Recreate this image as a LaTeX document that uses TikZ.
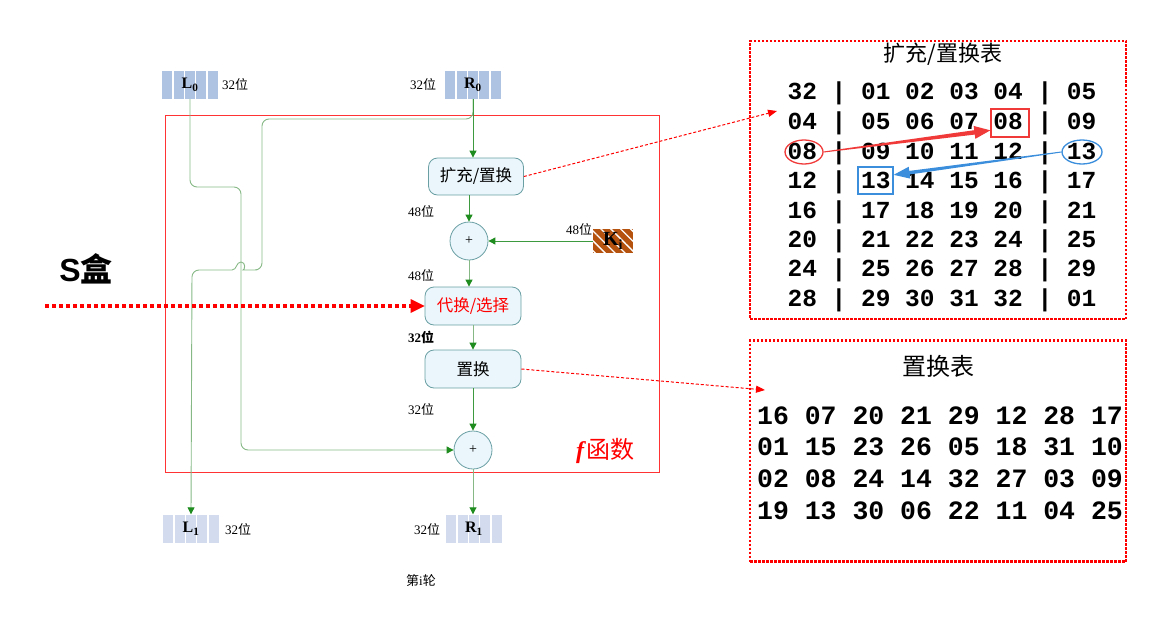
\documentclass[tikz,border=0pt]{standalone}
\usepackage{fontspec}
\setmainfont{Liberation Serif}
\newfontfamily\cjk{Noto Sans CJK SC}
\newfontfamily\tmono{Liberation Mono}
\newfontfamily\ssans{Liberation Sans}
\usetikzlibrary{arrows.meta,patterns.meta,calc,shapes.geometric}
\definecolor{stripeA}{HTML}{AEC2E2}
\definecolor{stripeB}{HTML}{D2DCEE}
\definecolor{boxfill}{HTML}{EAF6FC}
\definecolor{boxedge}{HTML}{6A9FA3}
\definecolor{wire}{HTML}{86B886}
\definecolor{wiredark}{HTML}{3E9A3E}
\definecolor{tipgreen}{HTML}{1E8C1E}
\definecolor{kbrown}{HTML}{B4520E}
\definecolor{fred}{HTML}{FF3333}
\definecolor{hlblue}{HTML}{3A8EDC}
\definecolor{hlred}{HTML}{F03A3A}
\newcommand\wei{{\cjk 位}}
\newcommand\taparrow[5]{% color, start, end, shaft width, head half width
  \path (#2) coordinate (ta) (#3) coordinate (tb);
  \path ($(tb)!16pt!(ta)$) coordinate (th);
  \fill[#1] ($(ta)!0.5pt!90:(tb)$) -- ($(th)!#4!90:(tb)$) -- ($(th)!#5!90:(tb)$) -- (tb)
    -- ($(th)!#5!-90:(tb)$) -- ($(th)!#4!-90:(tb)$) -- ($(ta)!0.5pt!-90:(tb)$) -- cycle;}
\tikzset{
  regbox/.style={minimum width=56pt, minimum height=28pt, inner sep=0, fill=#1,
    path picture={\foreach \i in {1,...,4}{\fill[white] ($(path picture bounding box.north west)!\i/5!(path picture bounding box.north east)$) ++(-0.8,-2) rectangle ++(1.6,34);}}},
  regtxt/.style={font=\fontsize{16}{18}\selectfont\bfseries},
  flowbox/.style={draw=boxedge, fill=boxfill, rounded corners=9pt, minimum width=96pt, minimum height=38pt, inner sep=0, line width=0.8pt, font=\cjk\fontsize{16.5}{18}\selectfont},
  xorc/.style={circle, draw=boxedge, fill=boxfill, minimum size=38pt, inner sep=0, line width=0.8pt, font=\fontsize{14}{16}\selectfont},
  wireline/.style={draw=wire, line width=0.9pt, -{Triangle[length=7pt,width=7pt,color=tipgreen]}},
  conn/.style={draw=wiredark, line width=0.9pt, -{Triangle[length=7pt,width=7pt,color=tipgreen]}},
  lbl/.style={font=\fontsize{13}{15}\selectfont, inner sep=0},
  tblbox/.style={draw=red, line width=2.5pt, dash pattern=on 2.5pt off 1.5pt},
  monoA/.style={font=\tmono\bfseries\fontsize{24.5}{26}\selectfont, inner sep=0, text height=15pt, text depth=0pt},
  monoB/.style={font=\tmono\bfseries\fontsize{26.5}{28}\selectfont, inner sep=0, text height=16pt, text depth=0pt},
  reddash/.style={draw=red, line width=1pt, dash pattern=on 3pt off 2pt, -{Triangle[length=9pt,width=7pt]}},
  hl/.style={draw=#1, line width=1.3pt, inner sep=0}
}
\begin{document}
\begin{tikzpicture}[x=1pt,y=-1pt]
\useasboundingbox (0,0) rectangle (1166,618);
% f-function frame
\node[draw=fred, line width=0.8pt, minimum width=494pt, minimum height=357pt, inner sep=0] (F) at (412,293.5) {};
% registers
\node[regbox=stripeA, regtxt] (L0) at (190,85) {L\textsubscript{0}};
\node[regbox=stripeA, regtxt] (R0) at (473,85) {R\textsubscript{0}};
\node[regbox=stripeB, regtxt] (L1) at (191,528.5) {L\textsubscript{1}};
\node[regbox=stripeB, regtxt] (R1) at (474,528.5) {R\textsubscript{1}};
% flow nodes
\node[flowbox, minimum width=95pt, minimum height=37pt] (X1) at (476,176.5) {扩充/置换};
\node[xorc] (c1) at (469,241) {+};
\node[flowbox, text=red] (SUB) at (473,306) {代换/选择};
\node[flowbox] (P) at (473,369) {置换};
\node[xorc] (c2) at (473,450) {+};
\node[minimum width=40pt, minimum height=24pt, inner sep=0, fill=kbrown,
  postaction={pattern={Lines[angle=-45,distance=7pt,line width=1.3pt]}, pattern color=white},
  font=\fontsize{20}{22}\selectfont\bfseries] (Ki) at (613,241) {K\textsubscript{i}};
% wires
\draw[wireline, rounded corners=7pt] (L0.south) -- (190,187) -- (241,187) -- (241,450) -- (c2.west);
\draw[wireline] (R0.south) [rounded corners=7pt] -- (473,119) -- (262,119) -- (262,270) -- (250,270)
  [sharp corners] .. controls (245,270) and (246,262) .. (241,262) .. controls (236,262) and (237,270) .. (232,270)
  [rounded corners=7pt] -- (192,270) -- (L1.north);
\draw[conn] (R0.south) -- (R0.south |- X1.north);
\draw[conn] (c1.north |- X1.south) -- (c1.north);
\draw[wireline] (c1.south) -- (c1.south |- SUB.north);
\draw[wireline] (P.north |- SUB.south) -- (P.north);
\draw[conn] (c2.north |- P.south) -- (c2.north);
\draw[wireline] (c2.south) -- (c2.south |- R1.north);
\draw[conn] (Ki.west) -- (c1.east);
% labels
\node[lbl] (lL0) at (235,85) {32\wei};
\node[lbl] (lR0) at (423,85) {32\wei};
\node[lbl] (l48a) at (421,211) {48\wei};
\node[lbl] (l48b) at (421,275) {48\wei};
\node[lbl] (l48k) at (579,229) {48\wei};
\node[lbl] (l32a) at (421,337) {\textbf{32}{\cjk\bfseries 位}};
\node[lbl] (l32b) at (421,409) {32\wei};
\node[lbl] (lL1) at (238,529) {32\wei};
\node[lbl] (lR1) at (427,529) {32\wei};
\node[lbl] (round) at (421,581) {{\cjk 第}i{\cjk 轮}};
\node[inner sep=0, text=red, font=\fontsize{24}{26}\selectfont] (fname) at (605,451) {\textbf{\textit{f}}{\cjk 函数}};
\node[inner sep=0, font=\fontsize{32}{34}\selectfont\bfseries] (sbox) at (86,269) {{\ssans S}{\cjk 盒}};
% S-box pointer
\coordinate (sstart) at (45,306);
\draw[red, line width=3.5pt, dash pattern=on 4pt off 3pt, -{Triangle[length=14pt,width=14pt,line width=0pt]}] (sstart) -- (SUB.west);
% table 1
\node[tblbox, minimum width=376pt, minimum height=278pt, inner sep=0] (T1) at (938,180) {};
\node[inner sep=0, font=\cjk\fontsize{22}{24}\selectfont] (T1t) at (943,54) {扩充/置换表};
\foreach \y/\txt [count=\r] in {92/{32 | 01 02 03 04 | 05}, 122/{04 | 05 06 07 08 | 09},
  152/{08 | 09 10 11 12 | 13}, 181/{12 | 13 14 15 16 | 17}, 211/{16 | 17 18 19 20 | 21},
  240/{20 | 21 22 23 24 | 25}, 269/{24 | 25 26 27 28 | 29}, 299/{28 | 29 30 31 32 | 01}}
  \node[monoA] (T1r\r) at (942,\y) {\txt};
\node[hl=hlred, ellipse, minimum width=38pt, minimum height=24pt] (e08) at (804,152) {};
\node[hl=hlred, minimum width=38pt, minimum height=28pt] (r08) at (1010,123) {};
\node[hl=hlblue, ellipse, minimum width=40pt, minimum height=24pt] (e13) at (1082,152) {};
\node[hl=hlblue, minimum width=35pt, minimum height=27pt] (r13) at (875.5,180.5) {};
\taparrow{hlred}{e08.east}{$(r08.south west)!0.25!(r08.north west)$}{2.2pt}{6.5pt}
\taparrow{hlblue}{e13.west}{$(r13.south east)!0.7!(r13.north east)$}{1.8pt}{6pt}
% table 2
\node[tblbox, minimum width=376pt, minimum height=221pt, inner sep=0] (T2) at (938,451) {};
\node[inner sep=0, font=\cjk\fontsize{24}{26}\selectfont] (T2t) at (938,366) {置换表};
\foreach \y/\txt [count=\r] in {416/{16 07 20 21 29 12 28 17}, 447/{01 15 23 26 05 18 31 10},
  479/{02 08 24 14 32 27 03 09}, 511/{19 13 30 06 22 11 04 25}}
  \node[monoB] (T2r\r) at (940,\y) {\txt};
% pointers to tables
\coordinate (t1in) at (777,111);
\coordinate (t2in) at (765,390);
\draw[reddash] (X1.east) -- (t1in);
\draw[reddash] (P.east) -- (t2in);
\end{tikzpicture}
\end{document}
